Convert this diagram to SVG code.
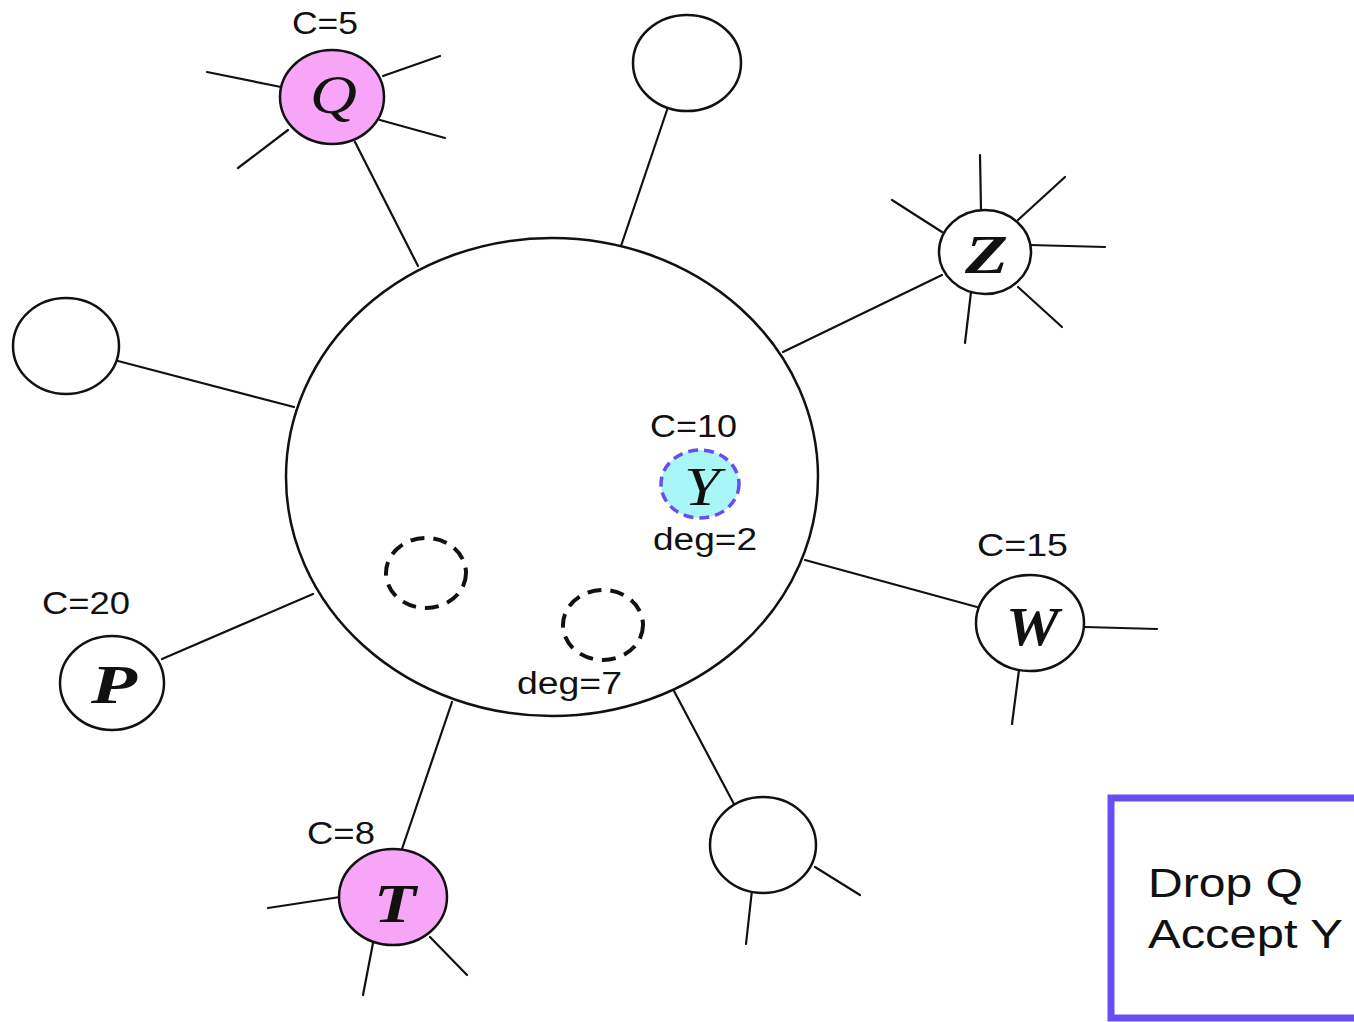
<svg xmlns="http://www.w3.org/2000/svg" width="1354" height="1022" viewBox="0 0 1354 1022">
<style>
.ln{stroke:#111;stroke-width:2.2;fill:none;stroke-linecap:round}
.nd{stroke:#111;stroke-width:2.5;fill:#fff}
.pink{fill:#f7a6f7}
.dash{stroke:#111;stroke-width:4;fill:none;stroke-dasharray:14 9}
.lbl{font-family:"Liberation Sans",Arial,sans-serif;font-size:31px;fill:#111}
.let{font-family:"Liberation Serif","Times New Roman",serif;font-style:italic;font-size:54px;fill:#111}
.b{font-weight:bold}
.box{font-family:"Liberation Sans",Arial,sans-serif;font-size:41px;fill:#111}
</style>
<rect width="1354" height="1022" fill="#fff"/>
<g id="connectors">
<line class="ln" x1="355" y1="142" x2="418" y2="266"/>
<line class="ln" x1="667" y1="110" x2="621" y2="246"/>
<line class="ln" x1="942" y1="275" x2="783" y2="352"/>
<line class="ln" x1="118" y1="361" x2="294" y2="407"/>
<line class="ln" x1="162" y1="659" x2="313" y2="594"/>
<line class="ln" x1="805" y1="560" x2="977" y2="607"/>
<line class="ln" x1="402" y1="849" x2="452" y2="702"/>
<line class="ln" x1="674" y1="691" x2="735" y2="806"/>
<line class="ln" x1="207" y1="72" x2="281" y2="87"/>
<line class="ln" x1="440" y1="56" x2="383" y2="76"/>
<line class="ln" x1="445" y1="138" x2="380" y2="120"/>
<line class="ln" x1="238" y1="168" x2="288" y2="130"/>
<line class="ln" x1="980" y1="155" x2="981" y2="210"/>
<line class="ln" x1="1065" y1="177" x2="1018" y2="220"/>
<line class="ln" x1="1030" y1="245" x2="1105" y2="247"/>
<line class="ln" x1="1018" y1="287" x2="1062" y2="327"/>
<line class="ln" x1="971" y1="292" x2="965" y2="343"/>
<line class="ln" x1="892" y1="200" x2="942" y2="232"/>
<line class="ln" x1="1085" y1="627" x2="1157" y2="629"/>
<line class="ln" x1="1019" y1="670" x2="1012" y2="724"/>
<line class="ln" x1="268" y1="908" x2="340" y2="897"/>
<line class="ln" x1="373" y1="943" x2="363" y2="995"/>
<line class="ln" x1="430" y1="937" x2="467" y2="975"/>
<line class="ln" x1="815" y1="867" x2="860" y2="895"/>
<line class="ln" x1="752" y1="890" x2="746" y2="944"/>
</g>
<g id="hub"><ellipse class="nd" cx="552" cy="477" rx="266" ry="239"/></g>
<g id="node-Q"><ellipse class="nd pink" cx="332" cy="97" rx="52" ry="47"/><text class="let" x="310" y="113" textLength="47" lengthAdjust="spacingAndGlyphs">Q</text><text class="lbl" x="292" y="34" textLength="66" lengthAdjust="spacingAndGlyphs">C=5</text></g>
<g id="node-top"><ellipse class="nd" cx="687" cy="63" rx="54" ry="48"/></g>
<g id="node-Z"><ellipse class="nd" cx="985" cy="252" rx="46" ry="42"/><text class="let b" x="965" y="273" textLength="43" lengthAdjust="spacingAndGlyphs">Z</text></g>
<g id="node-left"><ellipse class="nd" cx="66" cy="346" rx="53" ry="48"/></g>
<g id="node-P"><ellipse class="nd" cx="112" cy="683" rx="52" ry="47"/><text class="let b" x="91" y="703" textLength="46" lengthAdjust="spacingAndGlyphs">P</text><text class="lbl" x="42" y="614" textLength="88" lengthAdjust="spacingAndGlyphs">C=20</text></g>
<g id="node-W"><ellipse class="nd" cx="1030" cy="623" rx="54" ry="48"/><text class="let b" x="1006" y="645" textLength="53" lengthAdjust="spacingAndGlyphs">W</text><text class="lbl" x="977" y="556" textLength="91" lengthAdjust="spacingAndGlyphs">C=15</text></g>
<g id="node-T"><ellipse class="nd pink" cx="393" cy="897" rx="54" ry="48"/><text class="let b" x="374" y="922" textLength="42" lengthAdjust="spacingAndGlyphs">T</text><text class="lbl" x="307" y="844" textLength="68" lengthAdjust="spacingAndGlyphs">C=8</text></g>
<g id="node-br"><ellipse class="nd" cx="763" cy="845" rx="53" ry="48"/></g>
<g id="node-Y"><ellipse cx="700" cy="484" rx="39" ry="34" fill="#a8f6f6" stroke="#6a4cf5" stroke-width="3.5" stroke-dasharray="10 6"/><text class="let" x="684" y="505" textLength="36" lengthAdjust="spacingAndGlyphs">Y</text><text class="lbl" x="650" y="437" textLength="87" lengthAdjust="spacingAndGlyphs">C=10</text><text class="lbl" x="653" y="550" textLength="104" lengthAdjust="spacingAndGlyphs">deg=2</text></g>
<g id="node-d1"><ellipse class="dash" cx="426" cy="573" rx="40" ry="35"/></g>
<g id="node-d2"><ellipse class="dash" cx="603" cy="625" rx="40" ry="35"/><text class="lbl" x="517" y="694" textLength="105" lengthAdjust="spacingAndGlyphs">deg=7</text></g>
<g id="note"><rect x="1111" y="798" width="260" height="220" fill="#fff" stroke="#6a4cf5" stroke-width="7"/><text class="box" x="1148" y="897" textLength="155" lengthAdjust="spacingAndGlyphs">Drop Q</text><text class="box" x="1148" y="948" textLength="195" lengthAdjust="spacingAndGlyphs">Accept Y</text></g>
</svg>
